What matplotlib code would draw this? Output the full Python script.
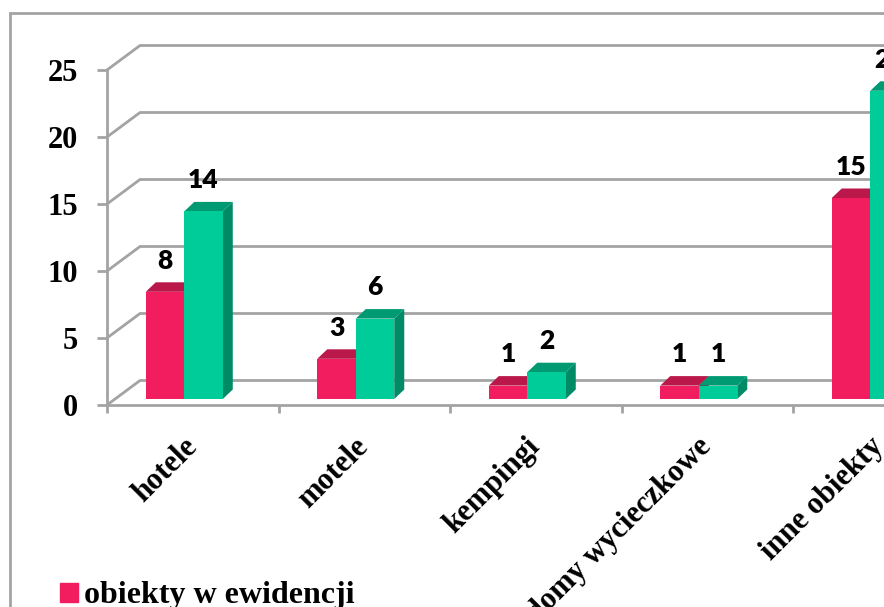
import matplotlib.pyplot as plt
from matplotlib.patches import Polygon, Rectangle, Patch

# dane
kategorie = ['hotele', 'motele', 'kempingi', 'domy wycieczkowe', 'inne obiekty']
obiekty_w_ewidencji = [8, 3, 1, 1, 15]
seria_2 = [14, 6, 2, 1, 23]
podzialka_y = [0, 5, 10, 15, 20, 25]

kolory_przod = ['#F21D5E', '#00CC99']
kolory_gora = ['#BA174A', '#009A72']
kolory_bok = ['#A11340', '#008A66']
szary = '#A3A3A3'

W, H = 884, 607
fig = plt.figure(figsize=(W / 100, H / 100), dpi=100)

# obszar wykresu: przednia os y na x=107 px, zero na y=405 px, kategoria = 171.5 px
ax = fig.add_axes([107 / W, (H - 405) / H, 5 * 171.5 / W, 335 / H])
ax.set_xlim(-0.5, 4.5)
ax.set_ylim(0, 25)
ax.patch.set_visible(False)

px_x = ax.bbox.width / 5
px_y = ax.bbox.height / 25


def dx(p):
    return p / px_x


def dy(p):
    return p / px_y


# tylna sciana + linie boczne (efekt 3D)
sx, sy = dx(33), dy(24.5)
for v in podzialka_y:
    ax.plot([-0.5, -0.5 + sx, 4.5 + sx], [v, v + sy, v + sy],
            color=szary, lw=2, clip_on=False, zorder=1, solid_capstyle='butt')

# slupki
szer = 0.2245
lewa = -0.274
baza = dy(6)
gx, gy = dx(10), dy(9.5)
serie = [obiekty_w_ewidencji, seria_2]
for s, wartosci in enumerate(serie):
    xs = [i + lewa + s * szer for i in range(len(kategorie))]
    z = 2 + 2 * s
    for x0, wart in zip(xs, wartosci):
        x1 = x0 + szer
        top = baza + wart
        ax.add_patch(Polygon([(x1, baza), (x1 + gx, baza + gy), (x1 + gx, top + gy), (x1, top)],
                             closed=True, fc=kolory_bok[s], ec='none', zorder=z, clip_on=False))
        ax.add_patch(Polygon([(x0, top), (x1, top), (x1 + gx, top + gy), (x0 + gx, top + gy)],
                             closed=True, fc=kolory_gora[s], ec='none', zorder=z, clip_on=False))
        ax.annotate(str(wart), (x0 + szer / 2, top), xytext=(0, 22.5), textcoords='offset points',
                    ha='center', va='center', fontsize=19, fontweight='heavy', family='Lato',
                    annotation_clip=False, zorder=10)
    ax.bar(xs, wartosci, width=szer, bottom=baza, align='edge', color=kolory_przod[s],
           zorder=z + 1, clip_on=False)

# osie
for k in ['top', 'right']:
    ax.spines[k].set_visible(False)
for k in ['left', 'bottom']:
    ax.spines[k].set_color(szary)
    ax.spines[k].set_linewidth(2)
    ax.spines[k].set_zorder(6)

ax.set_yticks(podzialka_y)
ax.set_yticklabels([str(v) for v in podzialka_y], fontsize=22, fontweight='bold',
                   family='Liberation Serif')
ax.tick_params(axis='y', length=7, width=2, color=szary, pad=14)

ax.set_xticks([i - 0.5 for i in range(len(kategorie) + 1)])
ax.set_xticklabels([])
ax.set_xticks(range(len(kategorie)), minor=True)
ax.set_xticklabels(kategorie, minor=True, rotation=45, ha='right', va='center',
                   rotation_mode='anchor', fontsize=22, fontweight='bold', family='Liberation Serif')
ax.tick_params(axis='x', which='major', length=6, width=2, color=szary)
ax.tick_params(axis='x', which='minor', length=0, pad=27)

# legenda
fig.legend(handles=[Patch(color=kolory_przod[0])], labels=['obiekty w ewidencji'],
           loc='center left', bbox_to_anchor=(60 / W, 1 - 596 / H), frameon=False,
           prop=dict(family='Liberation Serif', weight='bold', size=23),
           handlelength=0.55, handleheight=0.55, handletextpad=0.2,
           borderaxespad=0, borderpad=0)

# ramka wykresu
fig.add_artist(Rectangle((10 / W, -0.2), 1.5, 1.2 - 13 / H, transform=fig.transFigure,
                         fill=False, edgecolor=szary, lw=2))

fig.savefig('out.png', dpi=100)
